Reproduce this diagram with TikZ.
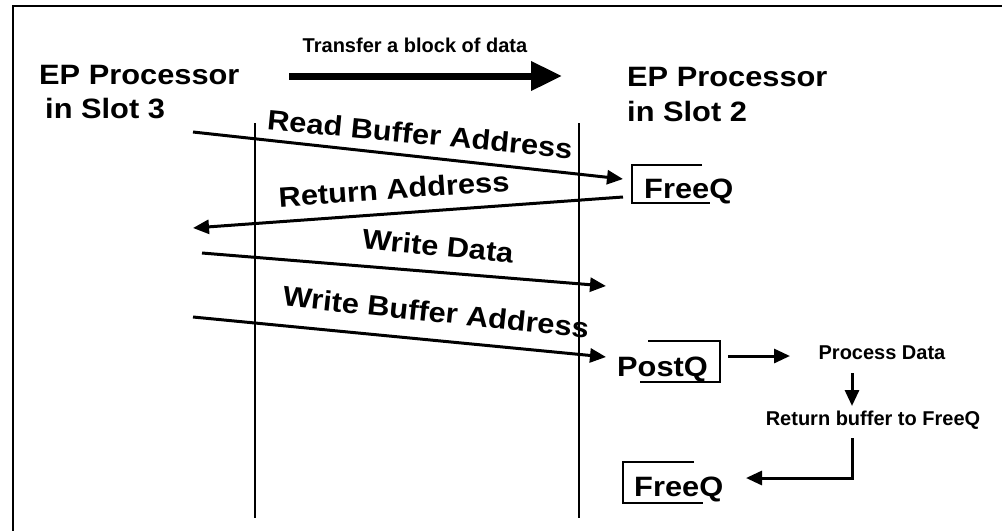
\documentclass[tikz,border=0pt]{standalone}
\usepackage{fontspec}
\setmainfont{Liberation Sans}
\usepackage{graphicx}
\usetikzlibrary{arrows.meta}
\newcommand\hstr[1]{\scalebox{1.1}[1]{#1}}
\begin{document}
\begin{tikzpicture}[x=1pt,y=-1pt,
  big/.style={inner sep=0pt,font=\fontsize{28}{32}\selectfont\bfseries},
  small/.style={inner sep=0pt,font=\fontsize{20}{23}\selectfont\bfseries},
  frameline/.style={line width=2.5pt},
  lifeline/.style={line width=2.5pt},
  msg/.style={line width=3pt,-{Triangle[length=16pt,width=14pt]}},
  qbox/.style={line width=2.5pt},
  bigarrow/.style={line width=7pt,-{Triangle[length=31pt,width=28pt]}}]
\useasboundingbox (0,0) rectangle (1002,531);
% frame
\coordinate (fr1) at (1002,6);
\coordinate (fr2) at (13,6);
\coordinate (fr3) at (13,531);
\draw[frameline] (fr1) -- (fr2) -- (fr3);
% title and big arrow
\node[small] (title) at (415,45) {Transfer a block of data};
\coordinate (ba1) at (289,76);
\coordinate (ba2) at (562,76);
\draw[bigarrow] (ba1) -- (ba2);
% processors
\node[big,anchor=base west] (ep3) at (39,84) {\hstr{EP Processor}};
\node[big,anchor=base west] (sl3) at (45,118) {\hstr{in Slot 3}};
\node[big,anchor=base west] (ep2) at (627,86) {\hstr{EP Processor}};
\node[big,anchor=base west] (sl2) at (627,121) {\hstr{in Slot 2}};
% lifelines
\coordinate (l1t) at (255,123);
\coordinate (l1b) at (255,518);
\coordinate (l2t) at (579,123);
\coordinate (l2b) at (579,518);
\draw[lifeline] (l1t) -- (l1b);
\draw[lifeline] (l2t) -- (l2b);
% queues
\node[big,anchor=base west] (fq1) at (644,198) {\hstr{FreeQ}};
\draw[qbox] (702,165) -- (632,165) -- (632,203) -- (710,203);
\node[big,anchor=base west] (pq) at (617,376) {\hstr{PostQ}};
\draw[qbox] (648,341) -- (720,341) -- (720,382) -- (640,382);
\node[big,anchor=base west] (fq2) at (634,496) {\hstr{FreeQ}};
\draw[qbox] (694,462) -- (623,462) -- (623,503) -- (703,503);
% messages
\coordinate (m1s) at (193,132);
\coordinate (m1e) at (623,179);
\draw[msg] (m1s) -- (m1e);
\node[big,rotate=-5.5] (t1) at (420,134) {\hstr{Read Buffer Address}};
\coordinate (m2s) at (623,197);
\coordinate (m2e) at (193,228);
\draw[msg] (m2s) -- (m2e);
\node[big,rotate=4] (t2) at (394,189) {\hstr{Return Address}};
\coordinate (m3s) at (202,253);
\coordinate (m3e) at (606,286);
\draw[msg] (m3s) -- (m3e);
\node[big,rotate=-5.5] (t3) at (438,246) {\hstr{Write Data}};
\coordinate (m4s) at (193,317);
\coordinate (m4e) at (606,357);
\draw[msg] (m4s) -- (m4e);
\node[big,rotate=-6] (t4) at (436,312) {\hstr{Write Buffer Address}};
% processing
\node[small] (pd) at (882,353) {Process Data};
\node[small] (rb) at (873,420) {Return buffer to FreeQ};
\coordinate (a1s) at (728,356);
\coordinate (a1e) at (790,356);
\draw[msg] (a1s) -- (a1e);
\coordinate (a2s) at (852,373);
\coordinate (a2e) at (852,406);
\draw[msg] (a2s) -- (a2e);
\coordinate (a3s) at (852,438);
\coordinate (a3e) at (746,478);
\draw[msg] (a3s) |- (a3e);
\end{tikzpicture}
\end{document}
